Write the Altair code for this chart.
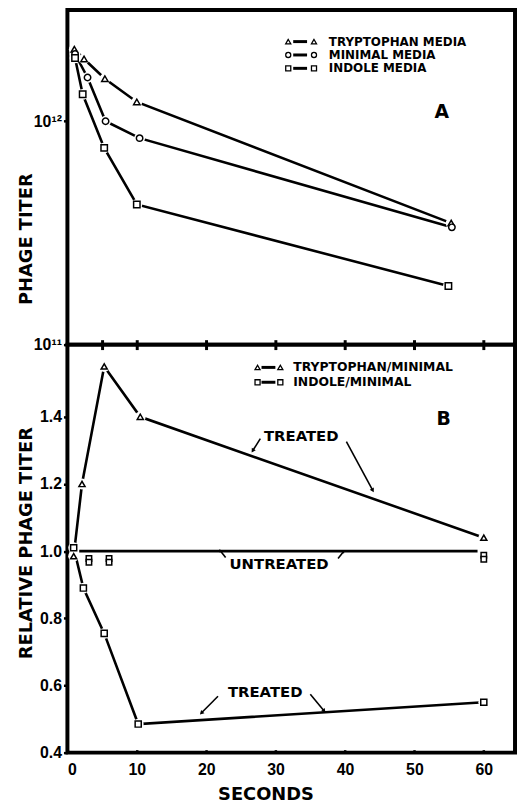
import math
import altair as alt
import pandas as pd

# ---------------- data ----------------
# Panel A : phage titer vs seconds
seriesA = ["TRYPTOPHAN MEDIA", "MINIMAL MEDIA", "INDOLE MEDIA"]
shapesA = ["triangle-up", "circle", "square"]
trp_x = [1.0, 2.4, 5.4, 10.0, 55.3]
trp_y = [2.1e12, 1.9e12, 1.55e12, 1.22e12, 3.5e11]
min_x = [1.1, 2.9, 5.5, 10.4, 55.4]
min_y = [2.0e12, 1.57e12, 1.0e12, 8.4e11, 3.35e11]
ind_x = [1.1, 2.2, 5.3, 10.0, 54.9]
ind_y = [1.92e12, 1.32e12, 7.6e11, 4.24e11, 1.83e11]

# Panel B : relative phage titer
seriesB = ["TRYPTOPHAN/MINIMAL", "INDOLE/MINIMAL"]
shapesB = ["triangle-up", "square"]
tm_x = [0.9, 2.1, 5.3, 10.5, 60.0]
tm_y = [0.985, 1.2, 1.55, 1.40, 1.04]
im_x = [0.9, 2.3, 5.3, 10.2, 60.0]
im_y = [1.01, 0.89, 0.755, 0.485, 0.55]
untreated_x = [1.7, 59.1]
untreated_y = [1.0, 1.0]
ctrl_x = [3.1, 3.1, 6.0, 6.0, 60.0, 60.0]
ctrl_y = [0.978, 0.967, 0.978, 0.967, 0.988, 0.976]

# annotations of panel B
ann_text = ["TREATED", "UNTREATED", "TREATED"]
ann_x = [33.7, 30.5, 28.5]
ann_y = [1.342, 0.962, 0.580]
arr_tail_x = [27.8, 40.2, 22.8, 39.0, 21.7, 35.0]
arr_tail_y = [1.335, 1.326, 0.981, 0.978, 0.568, 0.574]
arr_head_x = [26.7, 44.0, 22.0, 39.8, 19.3, 37.0]
arr_head_y = [1.299, 1.181, 1.002, 0.999, 0.518, 0.524]
arr_head_size = [22, 22, 12, 12, 22, 22]

x_ticks_mid = [5, 10, 20, 30, 40, 50, 60]
x_ticks_bottom = [0, 10, 20, 30, 40, 50, 60]
yB_ticks = [0.4, 0.6, 0.8, 1.0, 1.2, 1.4]
yA_ticks = [1e11, 1e12]

# ---------------- layout ----------------
W = 452
HA = 338
HB = 412
XDOM = [0, 64.5]
ADOM = [1e11, 3.15e12]
BDOM = [0.4, 1.615]
FT = "DejaVu Sans"
FL = "Liberation Sans"


def long_df(xs, ys, name):
    return pd.DataFrame({"x": xs, "y": ys, "s": name})


dfA = pd.concat([long_df(trp_x, trp_y, seriesA[0]),
                 long_df(min_x, min_y, seriesA[1]),
                 long_df(ind_x, ind_y, seriesA[2])], ignore_index=True)
dfB = pd.concat([long_df(tm_x, tm_y, seriesB[0]),
                 long_df(im_x, im_y, seriesB[1])], ignore_index=True)
dfU = pd.DataFrame({"x": untreated_x, "y": untreated_y})
dfC = pd.DataFrame({"x": ctrl_x, "y": ctrl_y})
dfT = pd.DataFrame({"x": ann_x, "y": ann_y, "t": ann_text})

sx = W / (XDOM[1] - XDOM[0])
sy = HB / (BDOM[1] - BDOM[0])
angles = []
for tx, ty, hx, hy in zip(arr_tail_x, arr_tail_y, arr_head_x, arr_head_y):
    dx = (hx - tx) * sx
    dy = -(hy - ty) * sy
    angles.append(math.degrees(math.atan2(dx, -dy)) % 360)
dfArr = pd.DataFrame({"tx": arr_tail_x, "ty": arr_tail_y, "hx": arr_head_x,
                      "hy": arr_head_y, "ang": angles, "hs": arr_head_size})

# ---------------- panel A ----------------
xA = alt.X("x:Q", scale=alt.Scale(domain=XDOM, nice=False, zero=False),
           axis=alt.Axis(values=x_ticks_mid, labels=False, tickSize=10, offset=-5,
                         tickWidth=3, title=None, domain=False, grid=False))
yA = alt.Y("y:Q", scale=alt.Scale(type="log", domain=ADOM, nice=False),
           axis=alt.Axis(values=yA_ticks,
                         labelExpr="datum.value > 5e11 ? '10¹²' : '10¹¹'",
                         title="PHAGE TITER", titleX=-36, titleY=231, titleAngle=270,
                         titleBaseline="alphabetic", tickSize=4, labelPadding=2))
shapeA = alt.Shape("s:N", scale=alt.Scale(domain=seriesA, range=shapesA), legend=None)

linesA = alt.Chart(dfA).mark_line(color="black", strokeWidth=2.6).encode(x=xA, y=yA, detail="s:N")
haloA = alt.Chart(dfA).mark_point(filled=True, color="white", opacity=1, size=120).encode(x=xA, y=yA)
ptsA = alt.Chart(dfA).mark_point(filled=True, fill="white", stroke="black", strokeWidth=1.5,
                                 opacity=1, size=42).encode(x=xA, y=yA, shape=shapeA)


def legend_layers(names, shapes, y0, dy, xm1, xd1, xd2, xm2, xt, fs):
    layers = []
    for i, (nm, shp) in enumerate(zip(names, shapes)):
        yy = y0 + dy * i
        one = pd.DataFrame({"label": [nm]})
        for xm in (xm1, xm2):
            layers.append(alt.Chart(one).mark_point(shape=shp, filled=True, fill="white",
                                                    stroke="black", strokeWidth=1.3, opacity=1,
                                                    size=26).encode(x=alt.value(xm), y=alt.value(yy)))
        layers.append(alt.Chart(one).mark_rule(color="black", strokeWidth=3).encode(
            x=alt.value(xd1), x2=alt.value(xd2), y=alt.value(yy)))
        layers.append(alt.Chart(one).mark_text(align="left", baseline="middle", font=FT,
                                               fontWeight="bold", fontSize=fs, color="black").encode(
            x=alt.value(xt), y=alt.value(yy), text="label:N"))
    return layers


legA = legend_layers(seriesA, shapesA, 32, 13.5, 223, 228, 242, 249, 264, 12)
letterA = alt.Chart(pd.DataFrame({"t": ["A"]})).mark_text(
    font=FT, fontWeight="bold", fontSize=19, color="black", baseline="middle").encode(
    x=alt.value(378), y=alt.value(103), text="t:N")

top = alt.layer(linesA, haloA, ptsA, *legA, letterA).properties(width=W, height=HA)

# ---------------- panel B ----------------
xB = alt.X("x:Q", scale=alt.Scale(domain=XDOM, nice=False, zero=False),
           axis=alt.Axis(values=x_ticks_bottom, format="d", tickSize=3, offset=-3,
                         labelPadding=9, title="SECONDS", titleX=200, titleY=50,
                         titleBaseline="alphabetic", domain=False, grid=False))
yB = alt.Y("y:Q", scale=alt.Scale(domain=BDOM, nice=False, zero=False),
           axis=alt.Axis(values=yB_ticks, format=".1f", title="RELATIVE PHAGE TITER",
                         titleX=-36, titleY=200, titleAngle=270, titleBaseline="alphabetic",
                         tickSize=4, labelPadding=2))
shapeB = alt.Shape("s:N", scale=alt.Scale(domain=seriesB, range=shapesB), legend=None)

linesB = alt.Chart(dfB).mark_line(color="black", strokeWidth=2.6).encode(x=xB, y=yB, detail="s:N")
untr = alt.Chart(dfU).mark_line(color="black", strokeWidth=2.6).encode(x="x:Q", y="y:Q")
haloB = alt.Chart(dfB).mark_point(filled=True, color="white", opacity=1, size=120).encode(x="x:Q", y="y:Q")
ptsB = alt.Chart(dfB).mark_point(filled=True, fill="white", stroke="black", strokeWidth=1.5,
                                 opacity=1, size=38).encode(x="x:Q", y="y:Q", shape=shapeB)
ctrl = alt.Chart(dfC).mark_point(shape="square", filled=True, fill="white", stroke="black",
                                 strokeWidth=1.5, opacity=1, size=30).encode(x="x:Q", y="y:Q")
annT = alt.Chart(dfT).mark_text(font=FT, fontWeight="bold", fontSize=15, color="black",
                                baseline="middle").encode(x="x:Q", y="y:Q", text="t:N")
arrows = alt.Chart(dfArr).mark_rule(color="black", strokeWidth=1.6).encode(
    x="tx:Q", y="ty:Q", x2="hx:Q", y2="hy:Q")
heads = alt.Chart(dfArr).mark_point(shape="triangle-up", filled=True, color="black", opacity=1).encode(
    x="hx:Q", y="hy:Q", angle=alt.Angle("ang:Q", scale=None), size=alt.Size("hs:Q", scale=None))

legB = legend_layers(seriesB, shapesB, 23, 15, 192, 196, 210, 215, 228, 12.5)
letterB = alt.Chart(pd.DataFrame({"t": ["B"]})).mark_text(
    font=FT, fontWeight="bold", fontSize=19, color="black", baseline="middle").encode(
    x=alt.value(380), y=alt.value(75), text="t:N")

bottom = alt.layer(linesB, untr, haloB, ptsB, ctrl, arrows, heads, annT, *legB, letterB).properties(
    width=W, height=HB)

chart = alt.vconcat(top, bottom, spacing=0, bounds="flush").resolve_scale(
    shape="independent"
).properties(
    padding={"left": 7, "top": -4, "right": 0, "bottom": 0}
).configure_view(
    stroke="black", strokeWidth=4
).configure_axis(
    labelFont=FL, labelFontSize=16, labelFontWeight="bold", labelColor="black",
    tickColor="black", tickWidth=2.5, domain=False, grid=False,
    titleFont=FT, titleFontSize=18, titleFontWeight="bold", titleColor="black"
)

chart.save("out.html", embed_options={"renderer": "svg", "actions": False})
